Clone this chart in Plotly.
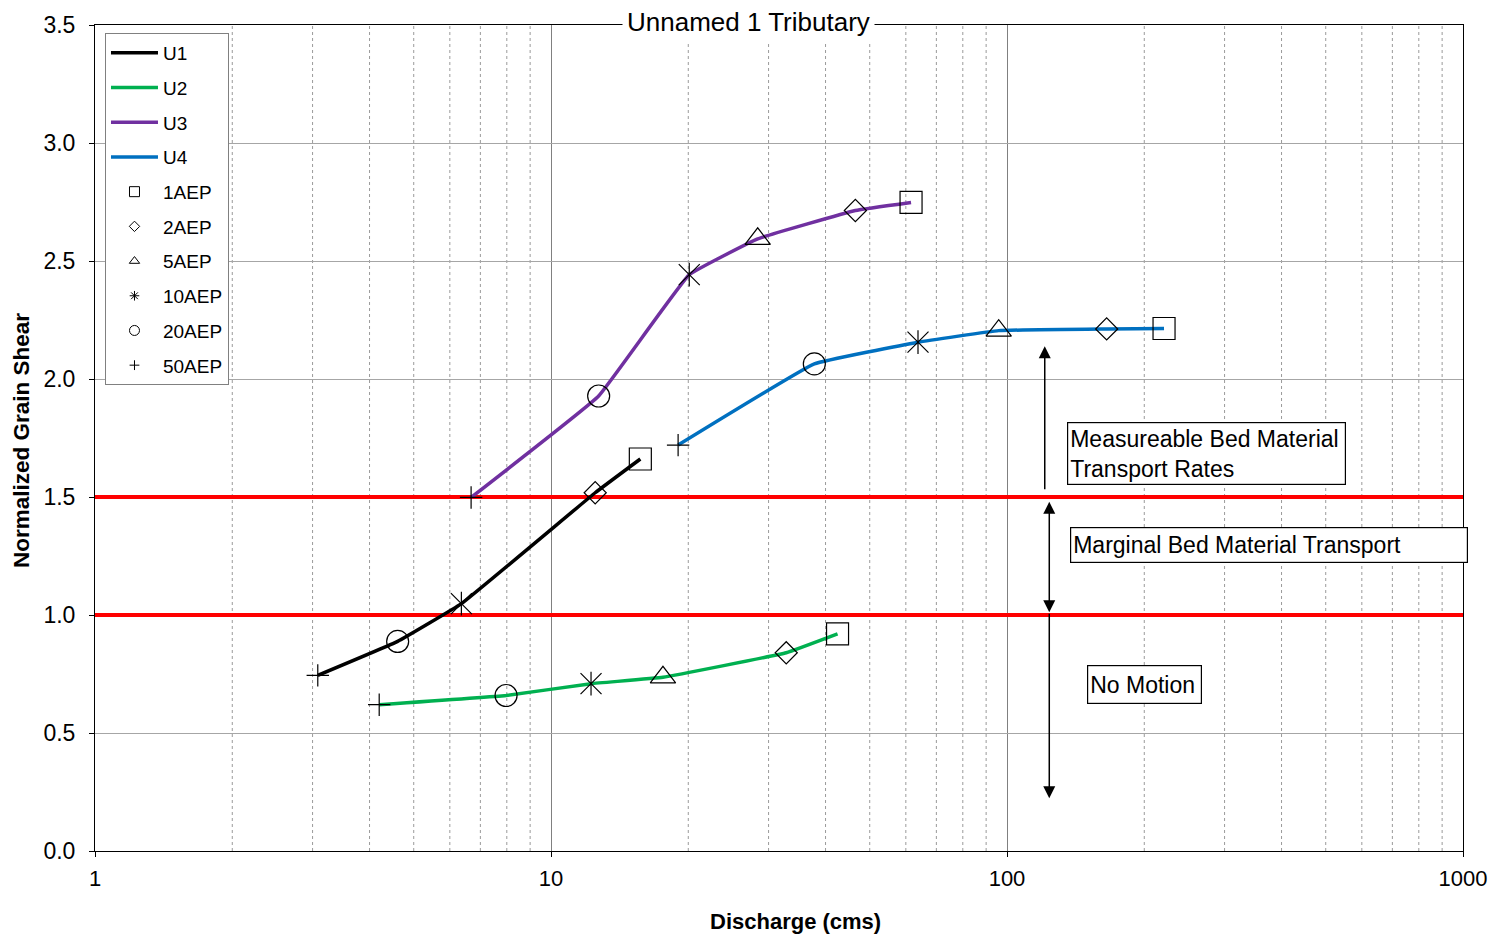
import numpy as np
import plotly.graph_objects as go

# ---------------- data ----------------
aep_labels = ["50AEP", "20AEP", "10AEP", "5AEP", "2AEP", "1AEP"]

u1_q = [3.08, 4.61, 6.36, None, 12.5, 15.7]
u1_s = [0.744, 0.888, 1.048, None, 1.518, 1.661]
u2_q = [4.20, 7.97, 12.24, 17.6, 32.8, 42.5]
u2_s = [0.620, 0.659, 0.709, 0.736, 0.840, 0.920]
u3_q = [6.68, 12.72, 20.1, 28.4, 46.5, 61.6]
u3_s = [1.498, 1.928, 2.442, 2.594, 2.714, 2.748]
u4_q = [19.0, 37.8, 63.8, 95.9, 165.4, 221.0]
u4_s = [1.720, 2.064, 2.156, 2.205, 2.212, 2.214]

reach_names = ["U1", "U2", "U3", "U4"]
reach_colors = ["#000000", "#00B050", "#7030A0", "#0070C0"]

threshold_levels = [1.0, 1.5]
x_range_vals = [1, 1000]
x_tick_vals = [1, 10, 100, 1000]
x_tick_text = ["1", "10", "100", "1000"]
y_tick_vals = [0.0, 0.5, 1.0, 1.5, 2.0, 2.5, 3.0, 3.5]
minor_grid = [m * 10 ** d for d in (0, 1, 2) for m in range(2, 10)]

# arrows: (x value, tail y, head y, double headed)
arrow_x = [121.0, 123.8, 123.8]
arrow_tail = [1.526, 1.486, 1.012]
arrow_head = [2.139, 1.012, 0.223]
arrow_double = [False, True, False]

FONT = "Arial, Liberation Sans, sans-serif"

fig = go.Figure()

# minor vertical grid
for v in minor_grid:
    fig.add_shape(type="line", xref="x", yref="paper", x0=v, x1=v, y0=0, y1=1,
                  line=dict(color="#9a9a9a", width=1, dash="dot"), layer="below")

# threshold lines (as traces so they sit above the grid, below data)
for lv in threshold_levels:
    fig.add_trace(go.Scatter(
        x=x_range_vals, y=[lv, lv], mode="lines", showlegend=False,
        line=dict(color="#FF0000", width=4), hoverinfo="skip", cliponaxis=True,
    ))

qs = [u1_q, u2_q, u3_q, u4_q]
ss = [u1_s, u2_s, u3_s, u4_s]

for name, col, q, s in zip(reach_names, reach_colors, qs, ss):
    fig.add_trace(go.Scatter(
        x=q, y=s, mode="lines", name=name, legendgroup=name,
        connectgaps=True,
        line=dict(color=col, width=3.5, shape="spline", smoothing=0.25),
    ))

# marker series (one per AEP) built from the reach data
plot_symbols = {
    "1AEP": [("square-open", 22)],
    "2AEP": [("diamond-open", 17)],
    "5AEP": [("triangle-up-open", 22)],
    "10AEP": [("x-thin-open", 21), ("line-ns-open", 17)],
    "20AEP": [("circle-open", 22)],
    "50AEP": [("cross-thin-open", 16)],
}
legend_symbols = {
    "1AEP": ("square-open", 10),
    "2AEP": ("diamond-open", 8),
    "5AEP": ("triangle-up-open", 9),
    "10AEP": ("asterisk-open", 8),
    "20AEP": ("circle-open", 10),
    "50AEP": ("cross-thin-open", 7),
}
legend_order = ["1AEP", "2AEP", "5AEP", "10AEP", "20AEP", "50AEP"]

for lab in legend_order:
    i = aep_labels.index(lab)
    xs = [q[i] for q in qs if q[i] is not None]
    ys = [s[i] for q, s in zip(qs, ss) if q[i] is not None]
    for sym, sz in plot_symbols[lab]:
        fig.add_trace(go.Scatter(
            x=xs, y=ys, mode="markers", showlegend=False, legendgroup=lab,
            marker=dict(symbol=sym, size=sz, color="black",
                        line=dict(color="black", width=1.2)),
            hoverinfo="x+y",
        ))
    sym, sz = legend_symbols[lab]
    fig.add_trace(go.Scatter(
        x=[None], y=[None], mode="markers", name=lab, legendgroup=lab,
        marker=dict(symbol=sym, size=sz, color="black",
                    line=dict(color="black", width=1)),
    ))

annotations = []
# title
annotations.append(dict(text="Unnamed 1 Tributary", xref="paper", yref="paper",
                        x=0.4774, y=1.0036, xanchor="center", yanchor="middle",
                        showarrow=False, bgcolor="white", borderpad=4,
                        font=dict(size=26, color="black", family=FONT)))
# axis titles
annotations.append(dict(text="<b>Discharge (cms)</b>", xref="paper", yref="paper",
                        x=0.5122, y=-0.0854, xanchor="center", yanchor="middle",
                        showarrow=False, font=dict(size=22, color="black", family=FONT)))
annotations.append(dict(text="<b>Normalized Grain Shear</b>", xref="paper", yref="paper",
                        x=-0.0533, y=0.4964, xanchor="center", yanchor="middle",
                        textangle=-90, showarrow=False,
                        font=dict(size=22.5, color="black", family=FONT)))
# region labels
box_texts = ["Measureable Bed Material<br>Transport Rates",
             "Marginal Bed Material Transport",
             "No Motion"]
box_x = [0.7102, 0.7129, 0.7250]
box_y = [0.5193, 0.3925, 0.2246]
box_w = [273, 392, 109]
box_h = [57, 30, 33]
for t, bx, by, bw, bh in zip(box_texts, box_x, box_y, box_w, box_h):
    annotations.append(dict(text=t, xref="paper", yref="paper", x=bx, y=by,
                            xanchor="left", yanchor="top", align="left", valign="middle",
                            width=bw, height=bh,
                            showarrow=False, bgcolor="white", bordercolor="black",
                            borderwidth=1.2, borderpad=2,
                            font=dict(size=23, color="black", family=FONT)))
# arrows
for ax_, yt, yh, dbl in zip(arrow_x, arrow_tail, arrow_head, arrow_double):
    a = dict(text="", xref="x", yref="y", axref="x", ayref="y",
             x=np.log10(ax_), y=yh, ax=np.log10(ax_), ay=yt,
             showarrow=True, arrowhead=2, arrowsize=1.6, arrowwidth=1.5,
             arrowcolor="black", standoff=0, startstandoff=0)
    if dbl:
        a.update(arrowside="end+start", startarrowhead=2, startarrowsize=1.6)
    annotations.append(a)

fig.update_layout(
    width=1499, height=937,
    margin=dict(l=95, r=34, t=23, b=86),
    paper_bgcolor="white", plot_bgcolor="white",
    font=dict(family=FONT, color="black"),
    annotations=annotations,
    legend=dict(x=0.0073, y=0.9903, xanchor="left", yanchor="top",
                bordercolor="#808080", borderwidth=1, bgcolor="white",
                font=dict(size=19, color="black", family=FONT),
                tracegroupgap=7, traceorder="grouped", itemwidth=47),
    xaxis=dict(type="log", range=[0, 3], tickvals=x_tick_vals, ticktext=x_tick_text,
               showgrid=True, gridcolor="#808080", gridwidth=1,
               showline=True, linecolor="black", linewidth=1, mirror=True,
               ticks="outside", ticklen=5, tickcolor="black", ticklabelstandoff=3,
               tickfont=dict(size=22, color="black", family=FONT), zeroline=False),
    yaxis=dict(range=[0, 3.5], tickvals=y_tick_vals, tickformat=".1f",
               showgrid=True, gridcolor="#a6a6a6", gridwidth=1,
               showline=True, linecolor="black", linewidth=1, mirror=True,
               ticks="outside", ticklen=5, tickcolor="black", ticklabelstandoff=9,
               tickfont=dict(size=23, color="black", family=FONT), zeroline=False),
)

fig.write_html("out.html")
